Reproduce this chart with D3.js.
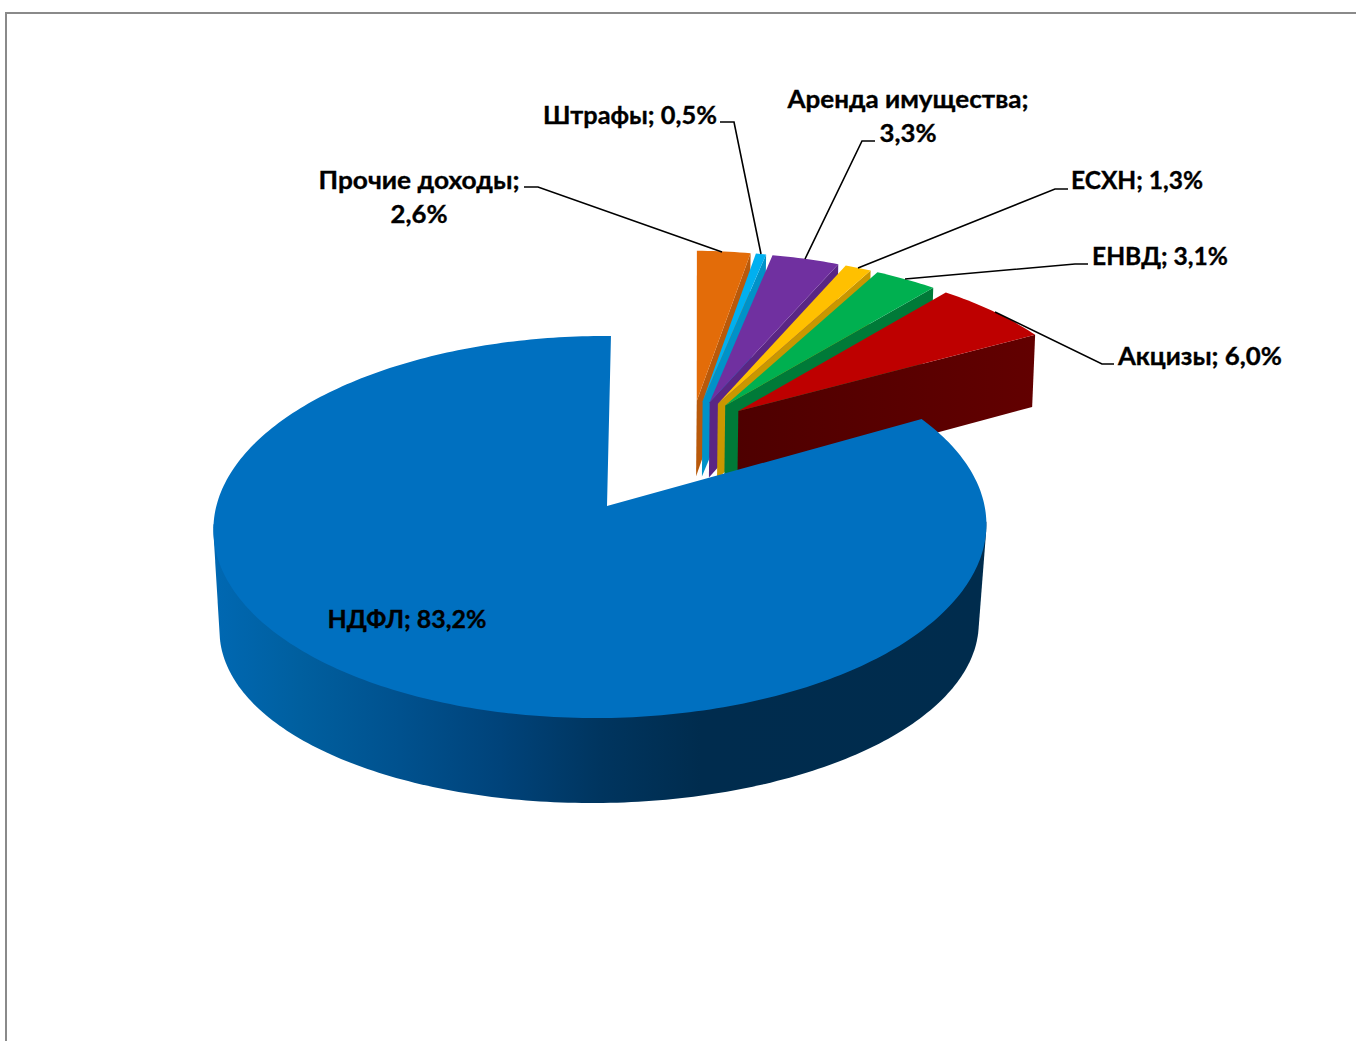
<!DOCTYPE html>
<html><head><meta charset="utf-8">
<script src="https://cdn.jsdelivr.net/npm/d3@7"></script>
<style>html,body{margin:0;background:#fff}svg{display:block}text{font-family:Lato,"Open Sans",sans-serif;font-weight:700;font-size:25.5px;fill:#000;stroke:#000;stroke-width:.35px;dominant-baseline:central;text-anchor:middle}</style>
</head><body><svg id="c" width="1356" height="1041"></svg>
<script>
const categories=["Прочие доходы","Штрафы","Аренда имущества","ЕСХН","ЕНВД","Акцизы","НДФЛ"];
const shares=[2.6,0.5,3.3,1.3,3.1,6.0,83.2];
const topColors=["#E36C09","#00B0F0","#7030A0","#FFC000","#00B050","#BE0000","#0070C0"];
const wallColors=["#B9590A","#0092C8","#5A2684","#C99700","#007A38","#560000","#003A66"];
const labelLines=[[["Прочие доходы;",419,179,201],["2,6%",419,213,57]],[["Штрафы; 0,5%",630,114,174]],[["Аренда имущества;",908,98,241],["3,3%",908,132,57]],[["ЕСХН; 1,3%",1137,179,132]],[["ЕНВД; 3,1%",1160,255,136]],[["Акцизы; 6,0%",1200,355,164]],[["НДФЛ; 83,2%",407,618,159]]];
const leaders=[[[524,187],[538,187],[722,252]],[[720,122],[734,122],[761,254]],[[875,141],[862,141],[805,259]],[[1068,189],[1055,189],[858,268]],[[1088,264],[1075,264],[905,279]],[[1114,364],[1102,364],[995,312]]];

const svg=d3.select("#c");
const P={cx:607,cy:506,b:384,a:188.7,k:0.11,m:0.017};
const mainView={s:4.4,v:115.4,nx:0.018,ny:0.134,u:-1};
const wedgeView={s:10,v:80,nx:0.008,ny:0.018,u:0};
const project=(view,X,Y,Z)=>{const d=1+P.k*Y+P.m*X;
  return [P.cx+(P.b*X+view.s*Y+view.u*Z)/(d+view.nx*Z),P.cy+(-P.a*Y+view.v*Z)/(d+view.ny*Z)];};
const base={x:0.2206,y:0.426},E=0.17,rimX=1.02;
const line=d3.line();
const arcs=d3.pie().sort(null).value(d=>d).startAngle(0).endAngle(2*Math.PI)(shares);

const defs=svg.append("defs");
const g1=defs.append("linearGradient").attr("id","wallMain").attr("gradientUnits","userSpaceOnUse").attr("x1",215).attr("x2",986).attr("y1",0).attr("y2",0);
[[0,"#0068B2"],[0.11,"#005F9F"],[0.24,"#00518E"],[0.37,"#00437A"],[0.5,"#00355F"],[0.63,"#002C4E"],[1,"#002C4D"]].forEach(s=>g1.append("stop").attr("offset",s[0]).attr("stop-color",s[1]));
const g2=defs.append("linearGradient").attr("id","wallRed").attr("gradientUnits","userSpaceOnUse").attr("x1",737).attr("x2",1035).attr("y1",0).attr("y2",0);
[[0,"#4E0000"],[1,"#620000"]].forEach(s=>g2.append("stop").attr("offset",s[0]).attr("stop-color",s[1]));

svg.append("line").attr("x1",5).attr("x2",1356).attr("y1",13).attr("y2",13).attr("stroke","#8a8a8a").attr("stroke-width",2);
svg.append("line").attr("x1",6).attr("x2",6).attr("y1",12).attr("y2",1041).attr("stroke","#8a8a8a").attr("stroke-width",2);

arcs.forEach((a,i)=>{
  const main=i===arcs.length-1, mid=(a.startAngle+a.endAngle)/2, view=main?mainView:wedgeView;
  const ox=main?0:base.x+E*Math.sin(mid), oy=main?0:base.y+E*Math.cos(mid), rx=main?1:rimX;
  const n=Math.max(4,Math.ceil((a.endAngle-a.startAngle)*60));
  const ang=d3.range(n+1).map(j=>a.startAngle+(a.endAngle-a.startAngle)*j/n);
  const rim=(z,list=ang)=>list.map(t=>project(view,ox+rx*Math.sin(t),oy+Math.cos(t),z));
  const apex=z=>project(view,ox,oy,z);
  const wall=main?"url(#wallMain)":(i===5?"url(#wallRed)":wallColors[i]);
  if(main){
    const front=ang.filter(t=>Math.cos(t)<-0.08);
    svg.append("path").attr("d",line(d3.polygonHull(rim(0,front).concat(rim(1,front))))+"Z").attr("fill",wall);
  } else {
    const t=a.endAngle, o=z=>project(view,ox+rx*Math.sin(t),oy+Math.cos(t),z);
    svg.append("path").attr("d",line([apex(0),o(0),o(1),apex(1)])+"Z").attr("fill",wall);
  }
  svg.append("path").attr("d",line([apex(0)].concat(rim(0)))+"Z").attr("fill",topColors[i]);
});

svg.selectAll("polyline.l").data(leaders).join("polyline").attr("points",d=>d.join(" ")).attr("fill","none").attr("stroke","#000").attr("stroke-width",1.6);
labelLines.forEach(ls=>ls.forEach(l=>svg.append("text").attr("x",l[1]).attr("y",l[2]).attr("textLength",l[3]).attr("lengthAdjust","spacingAndGlyphs").text(l[0])));
</script></body></html>
